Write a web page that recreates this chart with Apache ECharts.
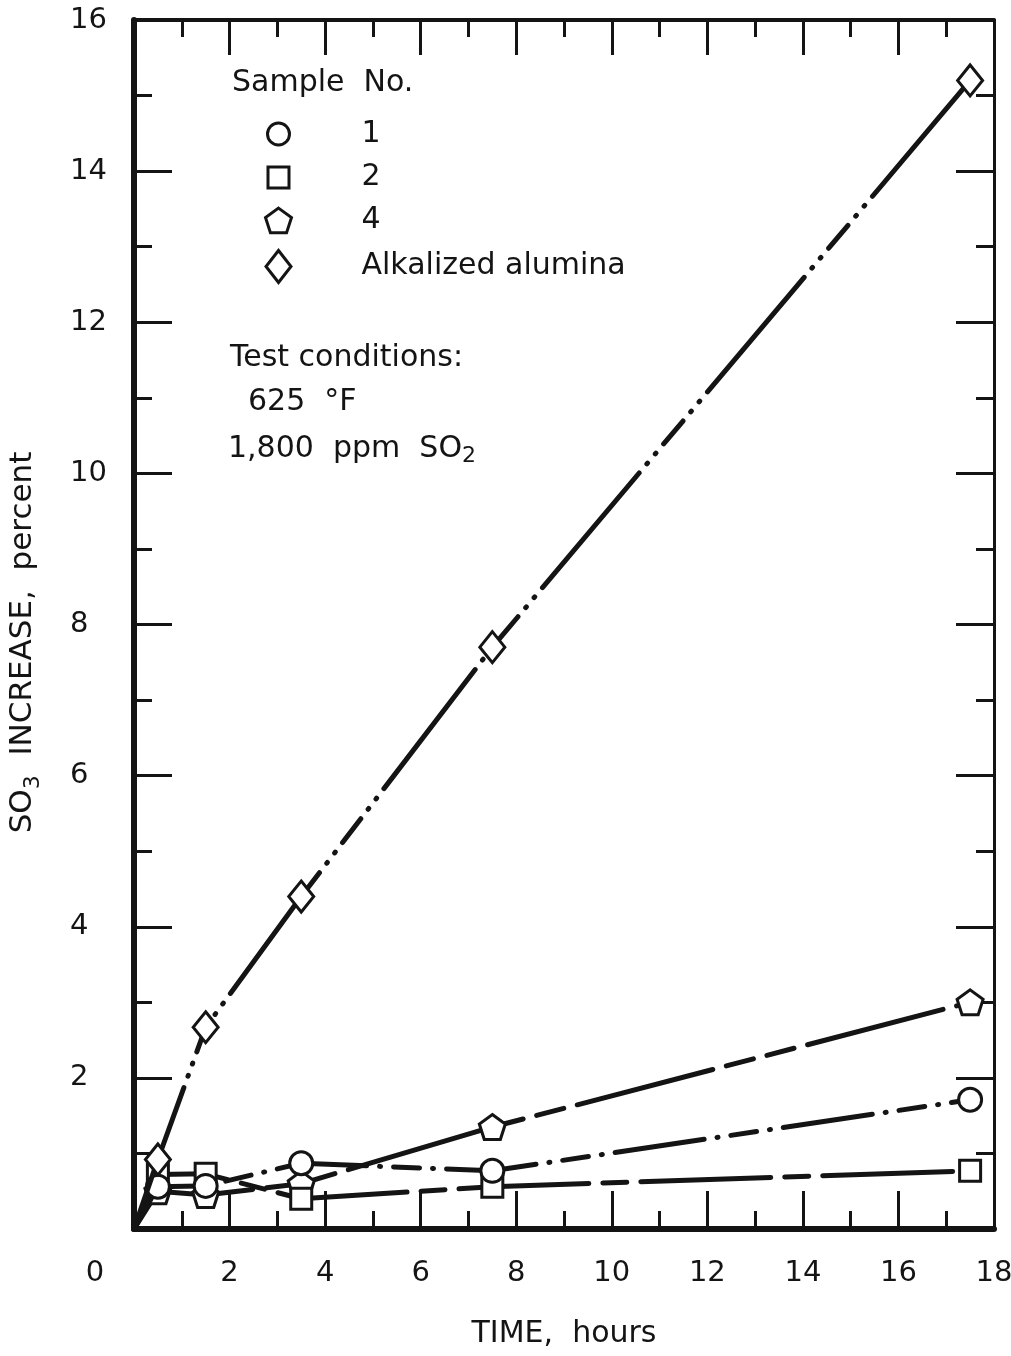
<!DOCTYPE html>
<html><head><meta charset="utf-8">
<script src="https://cdn.jsdelivr.net/npm/echarts@6/dist/echarts.min.js"></script>
<style>html,body{margin:0;padding:0;background:#fff}#c{width:1011px;height:1356px}</style>
</head><body><div id="c"></div>
<script>
// ---- data ----
const hours      = [0, 0.5, 1.5, 3.5, 7.5, 17.5];
const sample1    = [0, 0.56, 0.57, 0.87, 0.77, 1.71];
const sample2    = [0, 0.72, 0.73, 0.40, 0.56, 0.77];
const sample4    = [0, 0.50, 0.45, 0.60, 1.35, 3.00];
const alkalized  = [0, 0.92, 2.67, 4.40, 7.70, 15.20];
const seriesNames = ['1', '2', '4', 'Alkalized alumina'];
const xTickLabels = ['0','2','4','6','8','10','12','14','16','18'];
const yTickLabels = ['','2','4','6','8','10','12','14','16'];
const legendTitle = 'Sample  No.';
const conditions  = ['Test conditions:', '625  \u00B0F', '1,800  ppm  SO{s|2}'];
const xTitle = 'TIME,  hours';
const yTitle = '{a|SO}{s|3}{a|  INCREASE,  percent}';

const FONT = 'DejaVu Sans';
const INK = '#141414';
const pentagon = 'path://M0,-1 L0.951,-0.309 L0.588,0.809 L-0.588,0.809 L-0.951,-0.309 Z';

function pts(arr) {
  return hours.map((h, i) => i === 0 ? {value: [h, arr[i]], symbol: 'none'} : [h, arr[i]]);
}
function mk(name, arr, symbol, size, dash, z) {
  return {
    name, type: 'line', data: pts(arr), symbol, symbolSize: size, z,
    showAllSymbol: true,
    lineStyle: {color: INK, width: 5, type: dash, cap: 'round'},
    itemStyle: {color: '#fff', borderColor: INK, borderWidth: 3},
    emphasis: {disabled: true}, animation: false
  };
}

function axis(extra) {
  return Object.assign({
    type: 'value', splitLine: {show: false}, minorSplitLine: {show: false},
    axisTick: {show: true, inside: true, length: 38, lineStyle: {color: INK, width: 3}},
    minorTick: {show: true, splitNumber: 2, length: 18, lineStyle: {color: INK, width: 3}}
  }, extra);
}

// one legend per entry so each icon can have its own size
const legendIcons = ['circle', 'rect', pentagon, 'diamond'];
const legendSizes = [[22, 22], [21, 21], [26, 25], [25, 32]];
const legendCenters = [130, 173, 218, 265];
const legends = seriesNames.map((n, i) => {
  const [w, h] = legendSizes[i];
  return {
    orient: 'vertical', left: 277 - w / 2, top: legendCenters[i] - h / 2,
    itemWidth: w, itemHeight: h, selectedMode: false, padding: 0,
    data: [{name: n, icon: legendIcons[i]}],
    itemStyle: {color: '#fff', borderColor: INK, borderWidth: 3},
    textStyle: {color: INK, fontFamily: FONT, fontSize: 30, padding: [0, 0, 0, 78 - w / 2]}
  };
});

const chart = echarts.init(document.getElementById('c'));
chart.setOption({
  backgroundColor: '#fff',
  animation: false,
  grid: {left: 134, right: 17, top: 20, bottom: 127, containLabel: false, outerBoundsMode: 'none'},
  xAxis: [
    axis({
      min: 0, max: 18, interval: 2, position: 'bottom',
      axisLine: {onZero: false, lineStyle: {color: INK, width: 6}},
      axisLabel: {
        margin: 30, color: INK, fontFamily: FONT, fontSize: 29,
        formatter: v => { const t = xTickLabels[Math.round(v / 2)]; return v === 0 ? '{z|' + t + '}' : t; },
        rich: {z: {fontFamily: FONT, fontSize: 29, color: INK, padding: [0, 78, 0, 0]}}
      },
      name: xTitle, nameLocation: 'middle', nameGap: 90,
      nameTextStyle: {color: INK, fontFamily: FONT, fontSize: 30}
    }),
    axis({
      min: 0, max: 18, interval: 2, position: 'top',
      axisLine: {onZero: false, lineStyle: {color: INK, width: 4}},
      axisTick: {show: true, inside: true, length: 35, lineStyle: {color: INK, width: 3}},
      minorTick: {show: true, splitNumber: 2, length: 17, lineStyle: {color: INK, width: 3}},
      axisLabel: {show: false}
    })
  ],
  yAxis: [
    axis({
      min: 0, max: 16, interval: 2, position: 'left',
      axisLine: {onZero: false, lineStyle: {color: INK, width: 6}},
      axisLabel: {
        margin: 64, align: 'left', color: INK, fontFamily: FONT, fontSize: 29,
        formatter: v => yTickLabels[Math.round(v / 2)]
      },
      name: yTitle, nameLocation: 'middle', nameGap: 90, nameRotate: 90,
      nameTextStyle: {
        color: INK, fontFamily: FONT, fontSize: 31, padding: [0, 36, 0, 0],
        rich: {
          a: {fontFamily: FONT, fontSize: 31, color: INK, lineHeight: 42, verticalAlign: 'middle'},
          s: {fontFamily: FONT, fontSize: 22, color: INK, lineHeight: 42, verticalAlign: 'bottom'}
        }
      }
    }),
    axis({
      min: 0, max: 16, interval: 2, position: 'right',
      axisLine: {onZero: false, lineStyle: {color: INK, width: 3}},
      axisLabel: {show: false}
    })
  ],
  legend: legends,
  graphic: [
    {type: 'text', left: 232, top: 68, style: {text: legendTitle, fill: INK, font: '30px "DejaVu Sans"'}},
    {type: 'text', left: 230, top: 343, style: {text: conditions[0], fill: INK, font: '30px "DejaVu Sans"'}},
    {type: 'text', left: 248, top: 387, style: {text: conditions[1], fill: INK, font: '30px "DejaVu Sans"'}},
    {type: 'text', left: 228, top: 434, style: {
      text: conditions[2], fill: INK, font: '30px "DejaVu Sans"',
      rich: {s: {fontFamily: FONT, fontSize: 22, fill: INK, padding: [15, 0, 0, 0]}}
    }}
  ],
  series: [
    mk(seriesNames[0], sample1, 'circle', 23, [90, 13, 1, 13, 26, 13, 1, 13], 4),
    mk(seriesNames[1], sample2, 'rect', 21, [130, 14, 24, 14], 3),
    mk(seriesNames[2], sample4, pentagon, [26, 25], [140, 14, 28, 14, 28, 14], 2),
    mk(seriesNames[3], alkalized, 'diamond', [25, 31], [150, 12, 1, 12, 1, 12, 30, 12, 1, 12, 1, 12], 5)
  ]
});
</script>
</body></html>
